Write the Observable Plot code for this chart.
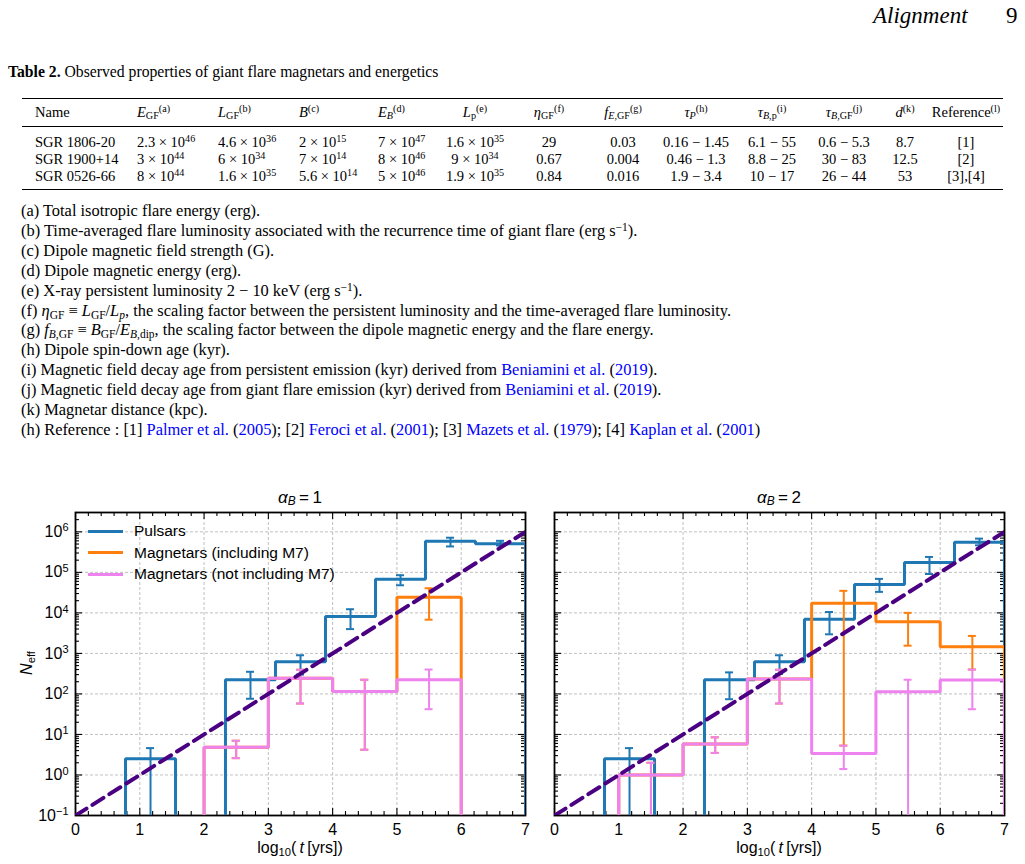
<!DOCTYPE html>
<html><head><meta charset="utf-8">
<script src="https://cdn.jsdelivr.net/npm/d3@7"></script>
<script src="https://cdn.jsdelivr.net/npm/@observablehq/plot@0.6"></script>
<style>
html,body{margin:0;padding:0;background:#fff;}
#page{position:relative;width:1025px;height:864px;overflow:hidden;font-family:"Liberation Serif","Times New Roman",serif;color:#000;}
.abs{position:absolute;white-space:nowrap;line-height:1;}
sub,sup{font-size:70%;line-height:0;}
sup{vertical-align:0.45em;}
sub{vertical-align:-0.25em;}
.lnk{color:#0000ff;}
.sans{font-family:"Liberation Sans",Helvetica,Arial,sans-serif;}
.hr{position:absolute;left:22px;width:981px;background:#000;}
</style></head><body><div id="page"></div>
<script>
// ---------- table data ----------
const magnetarNames = ["SGR 1806-20", "SGR 1900+14", "SGR 0526-66"];
const E_GF = ["2.3 × 10<sup>46</sup>", "3 × 10<sup>44</sup>", "8 × 10<sup>44</sup>"];
const L_GF = ["4.6 × 10<sup>36</sup>", "6 × 10<sup>34</sup>", "1.6 × 10<sup>35</sup>"];
const B_dip = ["2 × 10<sup>15</sup>", "7 × 10<sup>14</sup>", "5.6 × 10<sup>14</sup>"];
const E_B = ["7 × 10<sup>47</sup>", "8 × 10<sup>46</sup>", "5 × 10<sup>46</sup>"];
const L_p = ["1.6 × 10<sup>35</sup>", "9 × 10<sup>34</sup>", "1.9 × 10<sup>35</sup>"];
const eta_GF = ["29", "0.67", "0.84"];
const f_EGF = ["0.03", "0.004", "0.016"];
const tau_P = ["0.16 − 1.45", "0.46 − 1.3", "1.9 − 3.4"];
const tau_Bp = ["6.1 − 55", "8.8 − 25", "10 − 17"];
const tau_BGF = ["0.6 − 5.3", "30 − 83", "26 − 44"];
const dist_kpc = ["8.7", "12.5", "53"];
const refs = ["[1]", "[2]", "[3],[4]"];
const tableHeads = ["Name", "<i>E</i><sub>GF</sub><sup>(a)</sup>", "<i>L</i><sub>GF</sub><sup>(b)</sup>",
  "<i>B</i><sup>(c)</sup>", "<i>E<sub>B</sub></i><sup>(d)</sup>", "<i>L</i><sub>p</sub><sup>(e)</sup>",
  "<i>η</i><sub>GF</sub><sup>(f)</sup>", "<i>f</i><sub><i>E</i>,GF</sub><sup>(g)</sup>",
  "<i>τ<sub>P</sub></i><sup>(h)</sup>", "<i>τ</i><sub><i>B</i>,p</sub><sup>(i)</sup>",
  "<i>τ</i><sub><i>B</i>,GF</sub><sup>(j)</sup>", "<i>d</i><sup>(k)</sup>", "Reference<sup>(l)</sup>"];
const footnotes = [
  "(a) Total isotropic flare energy (erg).",
  "(b) Time-averaged flare luminosity associated with the recurrence time of giant flare (erg s<sup>−1</sup>).",
  "(c) Dipole magnetic field strength (G).",
  "(d) Dipole magnetic energy (erg).",
  "(e) X-ray persistent luminosity 2 − 10 keV (erg s<sup>−1</sup>).",
  "(f) <i>η</i><sub>GF</sub> ≡ <i>L</i><sub>GF</sub>/<i>L<sub>p</sub></i>, the scaling factor between the persistent luminosity and the time-averaged flare luminosity.",
  "(g) <i>f</i><sub><i>B</i>,GF</sub> ≡ <i>B</i><sub>GF</sub>/<i>E</i><sub><i>B</i>,dip</sub>, the scaling factor between the dipole magnetic energy and the flare energy.",
  "(h) Dipole spin-down age (kyr).",
  "(i) Magnetic field decay age from persistent emission (kyr) derived from <span class='lnk'>Beniamini et al.</span> (<span class='lnk'>2019</span>).",
  "(j) Magnetic field decay age from giant flare emission (kyr) derived from <span class='lnk'>Beniamini et al.</span> (<span class='lnk'>2019</span>).",
  "(k) Magnetar distance (kpc).",
  "(h) Reference : [1] <span class='lnk'>Palmer et al.</span> (<span class='lnk'>2005</span>); [2] <span class='lnk'>Feroci et al.</span> (<span class='lnk'>2001</span>); [3] <span class='lnk'>Mazets et al.</span> (<span class='lnk'>1979</span>); [4] <span class='lnk'>Kaplan et al.</span> (<span class='lnk'>2001</span>)"
];

// ---------- chart data ----------
const pulsarEdges = [0, 0.778, 1.556, 2.333, 3.111, 3.889, 4.667, 5.444, 6.222, 7];
const magnetarEdges = [0, 1, 2, 3, 4, 5, 6, 7];
// alpha_B = 1
const pulsars1 = [0, 2.5, 0, 224, 620, 8100, 67500, 583000, 509000];
const pulsars1Lo = [null, 0, null, 76, 300, 3980, 48000, 436000, 460000];
const pulsars1Hi = [null, 4.6, null, 352, 900, 12300, 85000, 716000, 600000];
const magInc1 = [0, 0, 4.8, 245, 115, 24400, 0];
const magInc1Lo = [null, null, 2.6, 58, 4.2, 6800, null];
const magInc1Hi = [null, null, 7.0, 395, 224, 40500, null];
const magNo1 = [0, 0, 4.8, 245, 115, 224, 0];
const magNo1Lo = [null, null, 2.6, 58, 4.2, 42, null];
const magNo1Hi = [null, null, 7.0, 395, 224, 400, null];
// alpha_B = 2
const pulsars2 = [0, 2.5, 0, 224, 620, 7000, 50000, 174000, 550000];
const pulsars2Lo = [null, 0, null, 74, 310, 2960, 33000, 91000, 465000];
const pulsars2Hi = [null, 4.6, null, 340, 900, 10500, 69000, 240000, 680000];
const magInc2 = [0, 1.0, 5.8, 233, 17400, 6000, 1450];
const magInc2Lo = [null, 0, 3.5, 58, 5.3, 1550, 400];
const magInc2Hi = [null, 2.0, 8.5, 395, 35000, 10000, 2700];
const magNo2 = [0, 1.0, 5.8, 233, 3.4, 113, 220];
const magNo2Lo = [null, 0, 3.5, 58, 1.4, 0, 42];
const magNo2Hi = [null, 2.0, 8.5, 395, 5.3, 224, 400];
// dashed reference line
const refLineX = [0, 7];
const refLineY = [0.1, 1e6];
const xTickValues = [0, 1, 2, 3, 4, 5, 6, 7];
const yTickValues = [1e-1, 1e0, 1e1, 1e2, 1e3, 1e4, 1e5, 1e6];
const seriesNames = ["Pulsars", "Magnetars (including M7)", "Magnetars (not including M7)"];
const seriesColors = ["#1f77b4", "#ff7f0e", "#ee82ee"];
const panelTitles = ["<i>α</i><sub><i>B</i></sub>&thinsp;=&thinsp;1", "<i>α</i><sub><i>B</i></sub>&thinsp;=&thinsp;2"];

// ---------- page ----------
const page = document.getElementById("page");
function put(html, x, y, {size = 14.5, align = "left", cls = "", style = ""} = {}) {
  const d = document.createElement("div");
  d.className = "abs " + cls;
  d.innerHTML = html;
  const tx = align === "center" ? "-50%" : align === "right" ? "-100%" : "0";
  d.style.cssText = `left:${x}px;top:${y}px;font-size:${size}px;transform:translate(${tx},-50%);${style}`;
  page.appendChild(d);
  return d;
}
function hr(y, h) {
  const d = document.createElement("div");
  d.className = "hr"; d.style.top = y + "px"; d.style.height = h + "px";
  page.appendChild(d);
}
// header
put("<i>Alignment</i>", 873, 15, {size: 23});
put("9", 1006, 15, {size: 23});
put("<b>Table 2.</b> Observed properties of giant flare magnetars and energetics", 8, 72, {size: 15.7});
hr(97.5, 1.2); hr(126, 0.8); hr(188.5, 1.2);
const colX = [35, 137, 218, 299, 378, 475, 549, 623, 696, 772, 844, 905, 966];
const colAlign = ["left", "left", "left", "left", "left", "center", "center", "center", "center", "center", "center", "center", "center"];
const cols = [magnetarNames, E_GF, L_GF, B_dip, E_B, L_p, eta_GF, f_EGF, tau_P, tau_Bp, tau_BGF, dist_kpc, refs];
tableHeads.forEach((h, i) => put(h, colX[i], 112, {align: colAlign[i]}));
const rowY = [142, 159, 176];
cols.forEach((col, i) => col.forEach((v, r) => put(v, colX[i], rowY[r], {align: colAlign[i]})));
footnotes.forEach((f, i) => put(f, 21, 211 + i * 19.9, {size: 16.4}));

// ---------- charts ----------
const FLOOR = 1e-3;
function stepPoints(edges, vals) {
  const v = vals.map(d => d > 0 ? d : FLOOR);
  const pts = [{x: edges[0], y: FLOOR}];
  v.forEach((d, i) => pts.push({x: edges[i], y: d}));
  pts.push({x: edges[edges.length - 1], y: v[v.length - 1]});
  pts.push({x: edges[edges.length - 1], y: FLOOR});
  return pts;
}
function errRows(edges, lo, hi) {
  const out = [];
  hi.forEach((h, i) => { if (h != null) out.push({x: (edges[i] + edges[i + 1]) / 2, lo: lo[i] > 0 ? lo[i] : FLOOR, hi: h}); });
  return out;
}
const W = 450, H = 303;
function panel(p, showY) {
  const mL = showY ? 55 : 20, mR = 10, mT = 5, mB = 35;
  const xMinor = d3.range(0, 7.001, 0.2).map(d => +d.toFixed(1)).filter(d => Math.abs(d - Math.round(d)) > 1e-6);
  const yMinor = [];
  for (let e = -1; e <= 6; e++) for (let m = 2; m <= 9; m++) { const v = m * 10 ** e; if (v <= 3e6) yMinor.push(v); }
  const tk = {stroke: "black", strokeWidth: 1.1};
  const series = [
    [p.pul, p.pulLo, p.pulHi, pulsarEdges, seriesColors[0]],
    [p.inc, p.incLo, p.incHi, magnetarEdges, seriesColors[1]],
    [p.no, p.noLo, p.noHi, magnetarEdges, seriesColors[2]]
  ];
  const dataMarks = [];
  series.forEach(([v, lo, hi, edges, c]) => {
    dataMarks.push(Plot.line(stepPoints(edges, v), {x: "x", y: "y", curve: "step-after", stroke: c, strokeWidth: 3, strokeLinejoin: "miter", clip: true}));
    const er = errRows(edges, lo, hi);
    dataMarks.push(Plot.ruleX(er, {x: "x", y1: "lo", y2: "hi", stroke: c, strokeWidth: 2, clip: true}));
    dataMarks.push(Plot.ruleY(er, {y: "hi", x1: "x", x2: "x", insetLeft: -4, insetRight: -4, stroke: c, strokeWidth: 2, clip: true}));
    dataMarks.push(Plot.ruleY(er, {y: "lo", x1: "x", x2: "x", insetLeft: -4, insetRight: -4, stroke: c, strokeWidth: 2, clip: true}));
  });
  const svg = Plot.plot({
    width: mL + W + mR, height: mT + H + mB,
    marginLeft: mL, marginRight: mR, marginTop: mT, marginBottom: mB,
    style: {fontFamily: "'Liberation Sans', Helvetica, Arial, sans-serif", fontSize: "16px", background: "transparent", color: "black", overflow: "visible"},
    x: {domain: [0, 7], ticks: xTickValues, tickSize: 0, tickPadding: 8, tickFormat: d => String(d), label: null},
    y: {type: "log", domain: [0.1, 3e6], ticks: yTickValues, tickSize: 0, tickPadding: 7,
        tickFormat: d => "10^" + Math.round(Math.log10(d)), label: null, axis: showY ? "left" : null},
    marks: [
      Plot.ruleX(xTickValues.slice(1, -1), {x: d => d, stroke: "#b0b0b0", strokeWidth: 0.8, strokeDasharray: "3,2"}),
      Plot.ruleY(yTickValues.slice(1), {y: d => d, stroke: "#b0b0b0", strokeWidth: 0.8, strokeDasharray: "3,2"}),
      Plot.ruleX(xTickValues, {x: d => d, insetTop: H - 7, ...tk}),
      Plot.ruleX(xTickValues, {x: d => d, insetBottom: H - 7, ...tk}),
      Plot.ruleX(xMinor, {x: d => d, insetTop: H - 4, ...tk}),
      Plot.ruleX(xMinor, {x: d => d, insetBottom: H - 4, ...tk}),
      Plot.ruleY(yTickValues, {y: d => d, insetRight: W - 7, ...tk}),
      Plot.ruleY(yTickValues, {y: d => d, insetLeft: W - 7, ...tk}),
      Plot.ruleY(yMinor, {y: d => d, insetRight: W - 4, ...tk}),
      Plot.ruleY(yMinor, {y: d => d, insetLeft: W - 4, ...tk}),
      Plot.frame({stroke: "black", strokeWidth: 1.8}),
      ...dataMarks,
      Plot.line(refLineX.map((x, i) => ({x, y: refLineY[i]})), {x: "x", y: "y", stroke: "#4b0082", strokeWidth: 4, strokeDasharray: "13,7", clip: true})
    ]
  });
  d3.select(svg).selectAll('g[aria-label="y-axis tick label"] text').each(function () {
    const t = this.textContent.split("^");
    if (t.length < 2) return;
    this.textContent = t[0];
    d3.select(this).append("tspan").attr("dy", "-0.5em").attr("font-size", "11px").text(t[1].replace("-", "−"));
  });
  return {svg, mL, mT};
}
const panels = [
  {p: {pul: pulsars1, pulLo: pulsars1Lo, pulHi: pulsars1Hi, inc: magInc1, incLo: magInc1Lo, incHi: magInc1Hi, no: magNo1, noLo: magNo1Lo, noHi: magNo1Hi}, showY: true, left: 75},
  {p: {pul: pulsars2, pulLo: pulsars2Lo, pulHi: pulsars2Hi, inc: magInc2, incLo: magInc2Lo, incHi: magInc2Hi, no: magNo2, noLo: magNo2Lo, noHi: magNo2Hi}, showY: false, left: 554}
];
const frameTop = 512;
panels.forEach((pp, i) => {
  const {svg, mL, mT} = panel(pp.p, pp.showY);
  svg.style.position = "absolute";
  svg.style.left = (pp.left - mL) + "px";
  svg.style.top = (frameTop - mT) + "px";
  page.appendChild(svg);
  put(panelTitles[i], pp.left + W / 2, 497, {size: 17, align: "center", cls: "sans"});
  put("log<sub>10</sub>(&thinsp;<i>t</i>&thinsp;[yrs])", pp.left + W / 2, 848, {size: 16, align: "center", cls: "sans"});
});
put("<i>N</i><sub>eff</sub>", 27, 663, {size: 16, align: "center", cls: "sans", style: "transform:translate(-50%,-50%) rotate(-90deg);"});
// legend
seriesNames.forEach((n, i) => {
  const y = 531 + i * 21.5;
  const ln = document.createElement("div");
  ln.style.cssText = `position:absolute;left:88px;top:${y - 1.5}px;width:35px;height:3px;background:${seriesColors[i]};`;
  page.appendChild(ln);
  put(n, 134, y, {size: 15.5, cls: "sans"});
});
</script></body></html>
